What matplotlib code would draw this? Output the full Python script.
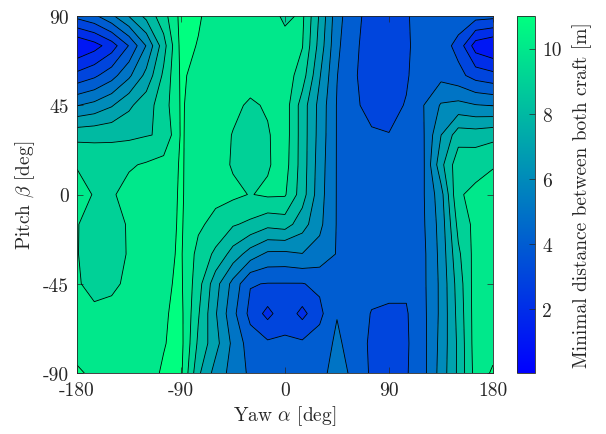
import numpy as np
import matplotlib
matplotlib.use("Agg")
import matplotlib.pyplot as plt
from matplotlib.colors import Normalize
from matplotlib.cm import ScalarMappable

# grid of attitudes (deg)
yaw = np.arange(-180, 181, 15)
pitch = np.arange(90, -91, -15)

# minimal distance between both craft [m], rows follow pitch (90 -> -90), columns follow yaw
dist = np.array([
    [3.3, 3.8, 4.8, 6.05, 7.3, 8.6, 10.3, 10.1, 9.6, 9.6, 9.6, 9.6, 8.74, 9.2, 6.86, 4.37, 3.26, 2.66, 2.57, 2.83, 3.77, 3.85, 3.6, 3.4, 3.3],
    [0.03, 0.6, 1.5, 3.05, 5.05, 7.6, 10.3, 9.95, 9.6, 9.6, 9.6, 9.5, 9.5, 9.05, 6.6, 4.2, 3.17, 2.57, 2.49, 2.74, 3.81, 3.51, 2.66, 0.5, 0.03],
    [2.3, 2.8, 3.6, 4.8, 6.3, 8.2, 10.15, 9.7, 9.6, 9.5, 9.4, 9.4, 9.55, 8.49, 6.09, 4.03, 3.09, 2.57, 2.4, 2.83, 3.94, 3.7, 3.3, 2.6, 2.3],
    [4.95, 5.3, 5.9, 6.8, 7.6, 8.5, 10.1, 9.6, 9.5, 9.2, 8.87, 9.1, 9.5, 7.54, 5.66, 3.94, 3.17, 2.66, 2.57, 3.09, 3.99, 5.1, 5.3, 5.05, 4.95],
    [7.7, 7.75, 7.8, 7.8, 7.95, 8.1, 10.1, 9.55, 9.4, 8.96, 8.57, 8.91, 9.5, 7.54, 5.61, 3.94, 3.34, 3.13, 3.04, 3.26, 3.94, 5.98, 7.54, 7.5, 7.7],
    [8.95, 8.7, 8.6, 8.9, 9.1, 9.4, 10.1, 9.5, 9.4, 8.91, 8.61, 8.91, 9.4, 7.54, 5.49, 3.94, 3.51, 3.43, 3.34, 3.34, 3.9, 6.69, 8.66, 8.7, 8.95],
    [9.3, 8.95, 8.9, 9.3, 9.5, 9.6, 10.1, 9.45, 9.3, 9.2, 8.96, 9.15, 9.1, 7.46, 5.4, 3.94, 3.6, 3.51, 3.43, 3.43, 3.94, 5.61, 8.91, 9.2, 9.3],
    [9.05, 8.6, 8.6, 9.1, 9.5, 9.7, 10.1, 9.2, 8.66, 8.1, 7.8, 7.29, 7.46, 6.43, 5.23, 3.94, 3.6, 3.51, 3.43, 3.43, 3.9, 5.4, 8.31, 9.3, 9.05],
    [9.05, 8.5, 8.5, 9.1, 9.5, 9.8, 10.1, 8.66, 7.8, 6.6, 5.53, 4.8, 4.76, 4.97, 4.63, 3.94, 3.51, 3.43, 3.34, 3.34, 3.81, 5.31, 7.8, 9.4, 9.05],
    [9.1, 8.7, 8.8, 9.2, 9.5, 9.85, 10.15, 8.4, 6.39, 4.67, 3.06, 2.96, 2.96, 2.96, 3.2, 3.9, 3.43, 3.26, 3.17, 3.17, 3.81, 5.23, 7.46, 9.5, 9.1],
    [9.3, 9.2, 9.3, 9.4, 9.5, 9.9, 10.25, 8.1, 6.09, 4.29, 2.7, 1.7, 2.66, 1.7, 2.75, 3.95, 3.43, 2.96, 2.91, 2.91, 3.77, 5.23, 7.33, 9.5, 9.3],
    [9.6, 9.5, 9.5, 9.5, 9.6, 9.95, 10.3, 7.8, 6.34, 4.76, 3.51, 3.17, 3.13, 3.17, 3.43, 4.2, 3.51, 2.83, 2.74, 2.87, 3.73, 5.31, 7.2, 9.5, 9.6],
    [10.15, 9.8, 9.6, 9.5, 9.7, 10.1, 10.2, 7.2, 5.6, 4.63, 3.81, 3.43, 3.34, 3.43, 3.69, 4.4, 3.77, 2.83, 2.74, 2.91, 3.73, 5.4, 7.2, 9.4, 10.15],
])

levels = np.arange(0, 12)
dist_range = (0.03, 11.0)

yaw_ticks = [-180, -90, 0, 90, 180]
pitch_ticks = [-90, -45, 0, 45, 90]
cbar_ticks = [2, 4, 6, 8, 10]

plt.rcParams["font.family"] = "serif"
plt.rcParams["font.serif"] = ["cmr10"]
plt.rcParams["mathtext.fontset"] = "cm"
plt.rcParams["axes.unicode_minus"] = False
plt.rcParams["axes.formatter.use_mathtext"] = True

dark = "0.15"

fig = plt.figure(figsize=(6.06, 4.35), dpi=100)
ax = fig.add_axes([0.127, 0.140, 0.6865, 0.821])
cax = fig.add_axes([0.853, 0.140, 0.030, 0.821])

# filled bands take the colour of their upper level
ax.contourf(yaw, pitch, dist, levels=levels, cmap="winter", norm=Normalize(-0.5, 10.5))
ax.contour(yaw, pitch, dist, levels=levels, colors="k", linewidths=0.6)

ax.set_xlim(-180, 180)
ax.set_ylim(-90, 90)
ax.set_xticks(yaw_ticks)
ax.set_xticklabels([str(t) for t in yaw_ticks])
ax.set_yticks(pitch_ticks)
ax.set_yticklabels([str(t) for t in pitch_ticks])
ax.tick_params(direction="in", top=True, right=True, length=4, width=0.5,
               colors=dark, labelsize=14, pad=6)
for s in ax.spines.values():
    s.set_linewidth(0.6)
    s.set_color(dark)

ax.set_xlabel(r"Yaw $\alpha$ [deg]", fontsize=14, color=dark, labelpad=3)
ax.set_ylabel(r"Pitch $\beta$ [deg]", fontsize=14, color=dark, labelpad=4)

sm = ScalarMappable(norm=Normalize(*dist_range), cmap="winter")
cb = fig.colorbar(sm, cax=cax)
cb.set_ticks(cbar_ticks)
cb.set_ticklabels([str(t) for t in cbar_ticks])
cb.ax.tick_params(direction="in", length=4, width=0.5, colors=dark, labelsize=14, pad=5)
cb.outline.set_linewidth(0.6)
cb.outline.set_edgecolor(dark)
cb.set_label("Minimal distance between both craft [m]", fontsize=14, color=dark, labelpad=8)

fig.savefig("out.png", dpi=100)
